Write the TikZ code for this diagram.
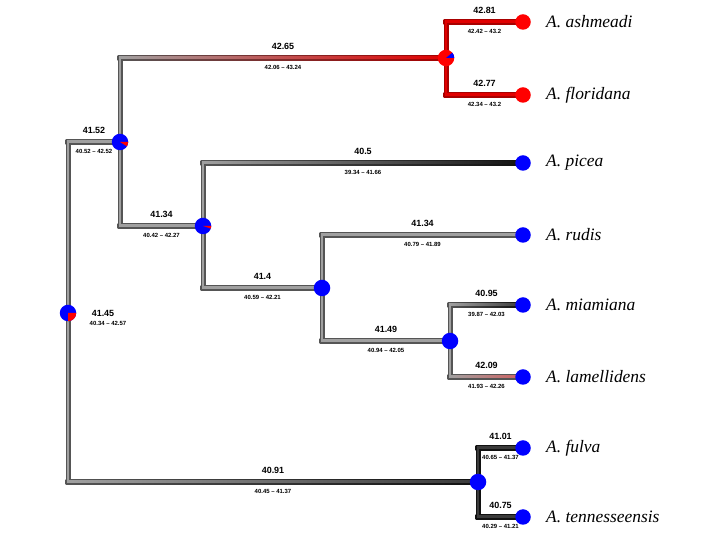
\documentclass[tikz,border=0pt]{standalone}
\usepackage{fontspec}
\setmainfont{Liberation Serif}
\setsansfont{Liberation Sans}
\usetikzlibrary{calc,backgrounds}
\definecolor{gO}{HTML}{555555}
\definecolor{gI}{HTML}{A0A0A0}
\definecolor{rO}{HTML}{A80000}
\definecolor{rI}{HTML}{E00000}
\definecolor{kO}{HTML}{111111}
\definecolor{kI}{HTML}{3A3A3A}
\definecolor{lI}{HTML}{D06060}
\definecolor{pieblue}{HTML}{0000FF}
\definecolor{piered}{HTML}{FF0000}
\newcommand{\treebranch}[8]{%
 \draw[line width=5bp,#3] (#1.center) -- (#1.center |- #2.center);
 \shade[left color=#3,right color=#5] ($(#1.center |- #2.center)+(-2.5,-2.5)$) rectangle ($(#2.center)+(0,2.5)$);
 \draw[line width=2bp,#4] (#1.center) -- (#1.center |- #2.center);
 \shade[left color=#4,right color=#6] ($(#1.center |- #2.center)+(-1,-1)$) rectangle ($(#2.center)+(0,1)$);
 \path (#1.center |- #2.center) -- (#2.center) node[midway,yshift=12bp,val]{#7} node[midway,yshift=-9bp,rng]{#8};
}
\tikzset{
 pienode/.style={circle,fill=pieblue,minimum size=16.5bp,inner sep=0pt},
 tipnode/.style={circle,fill=pieblue,minimum size=15.5bp,inner sep=0pt},
 redtip/.style={tipnode,fill=piered},
 val/.style={font=\sffamily\bfseries\fontsize{9}{10}\selectfont,inner sep=0pt},
 rng/.style={font=\sffamily\bfseries\fontsize{6}{7}\selectfont,inner sep=0pt},
 taxon/.style={font=\itshape\fontsize{17.5}{19}\selectfont,anchor=west,inner sep=0pt}
}
\begin{document}
\begin{tikzpicture}[x=1bp,y=1bp]
\useasboundingbox (0,0) rectangle (720,540);
% internal nodes
\node[pienode] (root) at (68,227) {};
\node[pienode] (nA) at (120,398) {};
\node[pienode,fill=piered] (nAF) at (446,482) {};
\node[pienode] (nB) at (203,314) {};
\node[pienode] (nC) at (322,252) {};
\node[pienode] (nD) at (450,199) {};
\node[pienode] (nE) at (478,58) {};
% tips
\node[redtip] (ash) at (523,518) {};
\node[redtip] (flo) at (523,445) {};
\node[tipnode] (pic) at (523,377) {};
\node[tipnode] (rud) at (523,305) {};
\node[tipnode] (mia) at (523,235) {};
\node[tipnode] (lam) at (523,163) {};
\node[tipnode] (ful) at (523,92) {};
\node[tipnode] (ten) at (523,23) {};
% pie wedges
\fill[piered] (root.center) -- ++(-90:8.25) arc[start angle=-90,end angle=0,radius=8.25] -- cycle;
\fill[piered] (nA.center) -- ++(-32:8.25) arc[start angle=-32,end angle=0,radius=8.25] -- cycle;
\fill[piered] (nB.center) -- ++(-18:8.25) arc[start angle=-18,end angle=0,radius=8.25] -- cycle;
\fill[pieblue] (nAF.center) -- ++(0:8.25) arc[start angle=0,end angle=40,radius=8.25] -- cycle;
% taxon labels
\node[taxon] (t-ash) at ($(ash)+(23,0)$) {A. ashmeadi};
\node[taxon] (t-flo) at ($(flo)+(23,0)$) {A. floridana};
\node[taxon] (t-pic) at ($(pic)+(23,0)$) {A. picea};
\node[taxon] (t-rud) at ($(rud)+(23,0)$) {A. rudis};
\node[taxon] (t-mia) at ($(mia)+(23,0)$) {A. miamiana};
\node[taxon] (t-lam) at ($(lam)+(23,0)$) {A. lamellidens};
\node[taxon] (t-ful) at ($(ful)+(23,0)$) {A. fulva};
\node[taxon] (t-ten) at ($(ten)+(23,0)$) {A. tennesseensis};
% root labels
\node[val] (rootval) at (103,227) {41.45};
\node[rng] (rootrng) at (108,217) {40.34 – 42.57};
\begin{scope}[on background layer]
\treebranch{root}{nA}{gO}{gI}{gO}{gI}{41.52}{40.52 – 42.52}
\treebranch{root}{nE}{gO}{gI}{kO}{kI}{40.91}{40.45 – 41.37}
\treebranch{nA}{nAF}{gO}{gI}{rO}{rI}{42.65}{42.06 – 43.24}
\treebranch{nAF}{ash}{rO}{rI}{rO}{rI}{42.81}{42.42 – 43.2}
\treebranch{nAF}{flo}{rO}{rI}{rO}{rI}{42.77}{42.34 – 43.2}
\treebranch{nA}{nB}{gO}{gI}{gO}{gI}{41.34}{40.42 – 42.27}
\treebranch{nB}{pic}{gO}{gI}{kO}{kO}{40.5}{39.34 – 41.66}
\treebranch{nB}{nC}{gO}{gI}{gO}{gI}{41.4}{40.59 – 42.21}
\treebranch{nC}{rud}{gO}{gI}{gO}{gI}{41.34}{40.79 – 41.89}
\treebranch{nC}{nD}{gO}{gI}{gO}{gI}{41.49}{40.94 – 42.05}
\treebranch{nD}{mia}{gO}{gI}{kO}{kI}{40.95}{39.87 – 42.03}
\treebranch{nD}{lam}{gO}{gI}{gO}{lI}{42.09}{41.93 – 42.26}
\treebranch{nE}{ful}{kO}{kI}{kO}{kI}{41.01}{40.65 – 41.37}
\treebranch{nE}{ten}{kO}{kI}{kO}{kI}{40.75}{40.29 – 41.21}
\end{scope}
\end{tikzpicture}
\end{document}
